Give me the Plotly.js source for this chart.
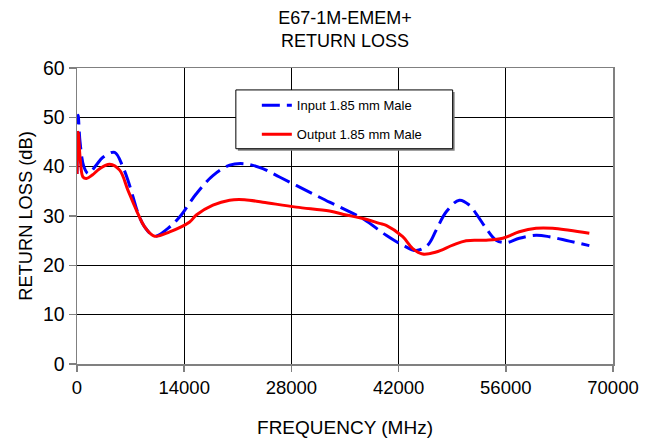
<!DOCTYPE html>
<html>
<head>
<meta charset="utf-8">
<script src="https://cdn.plot.ly/plotly-3.0.1.min.js"></script>
<style>html,body{margin:0;padding:0;background:#fff;}#chart{width:653px;height:438px;}</style>
</head>
<body>
<div id="chart"></div>
<script>
// Frequencies in MHz, return loss in dB
const freqInput = [0, 150, 400, 900, 1500, 2500, 3390, 4920, 6000, 6660, 7310, 7960, 8830, 10140, 11880, 13400, 15580, 17750, 19930, 21880, 24270, 26450, 28630, 30800, 32980, 35160, 37500, 40380, 42540, 44290, 45800, 46900, 48200, 49940, 51250, 52120, 53430, 54730, 56040, 57770, 59950, 61690, 64300, 66910];
const lossInput = [38.5, 50.4, 45, 40, 38.6, 40.3, 41.9, 42.9, 39.9, 37.2, 33.9, 30.6, 27.8, 25.9, 27.5, 29.8, 34.5, 38.2, 40.3, 40.6, 39.6, 37.9, 36.2, 34.5, 32.8, 31.2, 29.3, 26.1, 24.1, 23.0, 24.1, 27.1, 30.8, 33.2, 32.2, 30.5, 27.5, 25.1, 24.6, 25.5, 26.1, 25.8, 24.9, 24.0];

const freqOutput = [0, 150, 450, 780, 1230, 2000, 2960, 4270, 5570, 6660, 7750, 8830, 10140, 12100, 14710, 15580, 17750, 19930, 21880, 24270, 28630, 32980, 35160, 37330, 39500, 40380, 42540, 43850, 45150, 46900, 49070, 50820, 53430, 55600, 57770, 59950, 62120, 64300, 66910];
const lossOutput = [38.5, 47, 41, 37.9, 37.6, 38.3, 39.6, 40.5, 39.3, 35.2, 31.2, 27.8, 25.9, 26.8, 28.8, 30.2, 32.2, 33.2, 33.3, 32.8, 31.8, 31.0, 30.2, 29.5, 28.5, 28.1, 25.8, 23.4, 22.3, 22.7, 24.1, 25.0, 25.1, 25.5, 26.8, 27.5, 27.5, 27.1, 26.5];

const seriesNames = ['Input 1.85 mm Male', 'Output 1.85 mm Male'];
const xTicks = [0, 14000, 28000, 42000, 56000, 70000];
const yTicks = [0, 10, 20, 30, 40, 50, 60];

const FONT = '"Liberation Sans", Arial, sans-serif';

const traces = [
  {
    x: freqInput, y: lossInput, name: seriesNames[0], type: 'scatter', mode: 'lines',
    line: {color: '#0000FF', width: 3, dash: '18px,7px', shape: 'spline', smoothing: 1},
    legendgroup: 'a'
  },
  {
    x: freqOutput, y: lossOutput, name: seriesNames[1], type: 'scatter', mode: 'lines',
    line: {color: '#FF0000', width: 3, shape: 'spline', smoothing: 1},
    legendgroup: 'b'
  }
];

const L = 77, R = 39.5, T = 67.5, B = 73.5;

const layout = {
  width: 653, height: 438,
  margin: {l: L, r: R, t: T, b: B, pad: 0},
  paper_bgcolor: '#fff', plot_bgcolor: '#fff',
  font: {family: FONT, color: '#000', size: 18},
  showlegend: true,
  title: {
    text: 'E67-1M-EMEM+<br>RETURN LOSS',
    font: {family: FONT, size: 18, color: '#000'},
    x: 0.5, xref: 'paper', y: 0.945, yref: 'container', yanchor: 'top'
  },
  xaxis: {
    range: [0, 70000], tickvals: xTicks, ticktext: xTicks.map(String),
    showgrid: true, gridcolor: '#000', gridwidth: 1,
    zeroline: false, showline: true, linecolor: '#808080', linewidth: 1.5, mirror: true,
    ticks: 'outside', ticklen: 6, tickcolor: '#808080', tickwidth: 1.5,
    tickfont: {family: FONT, size: 18.5, color: '#000'},
    title: {text: 'FREQUENCY (MHz)', font: {family: FONT, size: 19, color: '#000'}, standoff: 26},
    automargin: false, fixedrange: true
  },
  yaxis: {
    range: [0, 60], tickvals: yTicks, ticktext: yTicks.map(String),
    showgrid: true, gridcolor: '#000', gridwidth: 1,
    zeroline: false, showline: true, linecolor: '#808080', linewidth: 1.5, mirror: true,
    ticks: 'outside', ticklen: 7, tickcolor: '#808080', tickwidth: 1.5,
    tickfont: {family: FONT, size: 19.5, color: '#000'},
    title: {text: 'RETURN LOSS (dB)', font: {family: FONT, size: 18.3, color: '#000'}, standoff: 5},
    automargin: false, fixedrange: true
  },
  legend: {
    x: (257 - L) / (653 - L - R), xanchor: 'left',
    y: (438 - B - 90) / (438 - T - B), yanchor: 'top',
    bgcolor: 'rgba(0,0,0,0)', borderwidth: 0,
    font: {family: FONT, size: 13, color: '#000'},
    tracegroupgap: 9, traceorder: 'grouped'
  },
  shapes: [
    {type: 'rect', xref: 'paper', yref: 'paper', layer: 'above',
     x0: (238 - L) / (653 - L - R), x1: (455 - L) / (653 - L - R),
     y0: (438 - B - 150.5) / (438 - T - B), y1: (438 - B - 91.5) / (438 - T - B),
     fillcolor: '#808080', line: {width: 0}},
    {type: 'rect', xref: 'paper', yref: 'paper', layer: 'above',
     x0: (236 - L) / (653 - L - R), x1: (453 - L) / (653 - L - R),
     y0: (438 - B - 148.5) / (438 - T - B), y1: (438 - B - 89.5) / (438 - T - B),
     fillcolor: '#fff', line: {color: '#000', width: 1}}
  ]
};

Plotly.newPlot('chart', traces, layout, {displayModeBar: false, staticPlot: true});
</script>
</body>
</html>
